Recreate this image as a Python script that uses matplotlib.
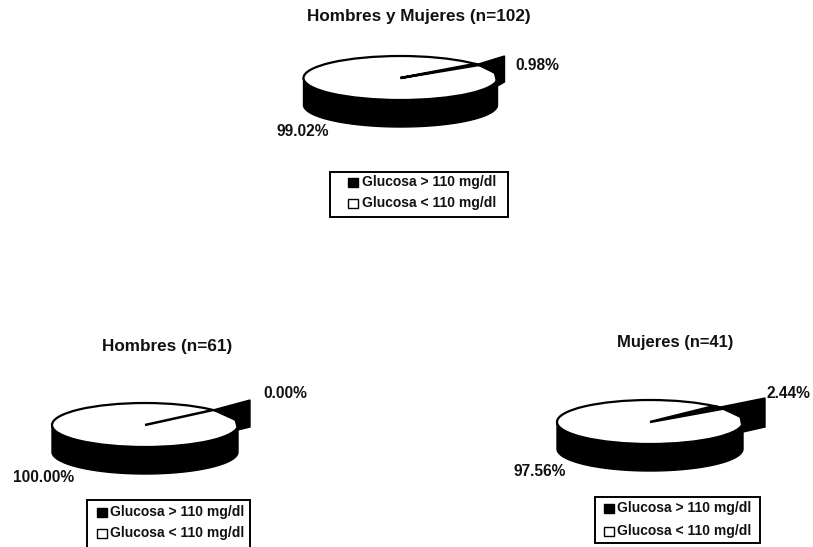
import numpy as np
import matplotlib
matplotlib.use("Agg")
import matplotlib.pyplot as plt
from matplotlib.patches import Ellipse, Polygon, Rectangle

plt.rcParams["font.family"] = ["Liberation Sans", "DejaVu Sans"]

# Survey groups and their share of participants on each side of the cut-off
titles = ["Hombres y Mujeres (n=102)", "Hombres (n=61)", "Mujeres (n=41)"]
glucose_high = [0.98, 0.00, 2.44]
glucose_low = [99.02, 100.00, 97.56]
legend_labels = ["Glucosa > 110 mg/dl", "Glucosa < 110 mg/dl"]

# Per-panel placement, in pixels of the figure canvas
layouts = [
    dict(c=(400.5, 78), rx=97, ry=22, depth=27, angle=38, reach=7, flag=(-22, 26), rim_y=86,
         title=(419, 17), title_size=12.3, high=(515, 66), low=(276, 131),
         box=(330, 172, 178, 45), rows=(182, 203), swatch=348, text=362),
    dict(c=(145, 425), rx=93, ry=22, depth=27, angle=43, reach=12, flag=(-25, 27), rim_y=430,
         title=(167, 347), title_size=12.3, high=(263, 393), low=(13, 477),
         box=(87, 500, 163, 50), rows=(512, 533), swatch=97, text=110),
    dict(c=(650, 422), rx=93, ry=22, depth=27, angle=42, reach=22, flag=(-24, 29), rim_y=432,
         title=(675, 343), title_size=11.9, high=(766, 393), low=(513, 471),
         box=(595, 497, 165, 46), rows=(508, 531), swatch=604, text=617),
]


def draw_pie(ax, high, c, rx, ry, depth, angle, reach, flag, rim_y):
    cx, cy = c
    # Side wall of the disc
    t = np.linspace(0, np.pi, 120)
    ex, ey = cx + rx * np.cos(t), cy + ry * np.sin(t)
    wall = np.r_[np.c_[ex, ey], np.c_[ex, ey + depth][::-1]]
    ax.add_patch(Polygon(wall, closed=True, fc="black", ec="black", lw=1, zorder=2))
    # Top face
    ax.add_patch(Ellipse(c, 2 * rx, 2 * ry, fc="white", ec="black", lw=1.6, zorder=3))

    # Sector of the minority group: its opening follows the percentage
    span = np.radians(360 * high / 100)
    mid = np.radians(angle)
    arc = np.linspace(mid - span / 2, mid + span / 2, 12)
    sector = np.c_[cx + rx * np.cos(arc), cy - ry * np.sin(arc)]
    ax.add_patch(Polygon(np.r_[[c], sector], closed=True, fc="black", ec="black", lw=1.8, zorder=4))

    # Pulled-out block of that sector, beyond the rim
    rim = (cx + rx * np.cos(mid), cy - ry * np.sin(mid))
    outer = cx + rx + reach
    block = [rim, (outer, cy + flag[0]), (outer, cy + flag[0] + flag[1]),
             (cx + rx, rim_y), (cx + rx * 0.97, cy - ry * 0.22)]
    ax.add_patch(Polygon(block, closed=True, fc="black", ec="black", lw=1, zorder=4))


fig = plt.figure(figsize=(8.13, 5.47), dpi=100)
ax = fig.add_axes([0, 0, 1, 1])
ax.set_xlim(0, 813)
ax.set_ylim(547, 0)
ax.axis("off")

for title, high, low, lay in zip(titles, glucose_high, glucose_low, layouts):
    draw_pie(ax, high, lay["c"], lay["rx"], lay["ry"], lay["depth"],
             lay["angle"], lay["reach"], lay["flag"], lay["rim_y"])

    ax.text(*lay["title"], title, ha="center", va="center", fontsize=lay["title_size"],
            fontweight="bold", color="#111111")
    ax.text(*lay["high"], f"{high:.2f}%", ha="left", va="center", fontsize=11.2,
            fontweight="bold", color="#111111")
    ax.text(*lay["low"], f"{low:.2f}%", ha="left", va="center", fontsize=11.2,
            fontweight="bold", color="#111111")

    # Legend box with one row per group
    x, y, w, h = lay["box"]
    ax.add_patch(Rectangle((x, y), w, h, fc="white", ec="black", lw=1.4, zorder=5))
    for row_y, label, fill in zip(lay["rows"], legend_labels, ["black", "white"]):
        ax.add_patch(Rectangle((lay["swatch"], row_y - 4.5), 10, 9, fc=fill, ec="black", lw=1, zorder=6))
        ax.text(lay["text"], row_y, label, ha="left", va="center", fontsize=10,
                fontweight="bold", color="#111111", zorder=6)

fig.savefig("out.png", dpi=100)
